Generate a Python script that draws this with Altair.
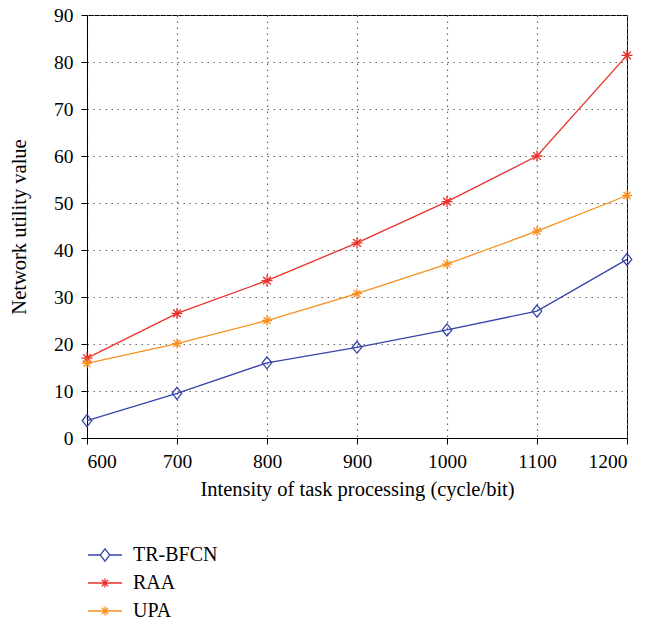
import altair as alt
import pandas as pd

x_vals = [600, 700, 800, 900, 1000, 1100, 1200]
tr_bfcn = [3.7, 9.5, 16.0, 19.3, 23.0, 27.0, 38.0]
raa = [17.0, 26.5, 33.5, 41.5, 50.3, 60.0, 81.4]
upa = [15.9, 20.1, 25.0, 30.7, 37.0, 44.0, 51.6]

series = ["TR-BFCN", "RAA", "UPA"]
colors = ["#3545a8", "#e8312a", "#f7901e"]
x_ticks = [600, 700, 800, 900, 1000, 1100, 1200]
y_ticks = [0, 10, 20, 30, 40, 50, 60, 70, 80, 90]

rows = []
for name, vals in zip(series, [tr_bfcn, raa, upa]):
    for xv, yv in zip(x_vals, vals):
        rows.append({"x": xv, "y": yv, "series": name})
df = pd.DataFrame(rows)

FONT = "Liberation Serif"
FS = 19.5
TFS = 20.5

diamond = "M0,-1L0.8,0L0,1L-0.8,0Z"
star = "M0,-1L0,1M-1,0L1,0M-0.7,-0.7L0.7,0.7M-0.7,0.7L0.7,-0.7"
leg_diamond = "M-1,0L-0.28,0M0.28,0L1,0M0,-0.36L0.28,0L0,0.36L-0.28,0Z"
leg_star = ("M-1,0L1,0M0,-0.27L0,0.27M-0.19,-0.19L0.19,0.19M-0.19,0.19L0.19,-0.19")

x_enc = alt.X("x:Q", scale=alt.Scale(domain=[600, 1200], nice=False),
              axis=alt.Axis(values=x_ticks, format="d",
                            title="Intensity of task processing (cycle/bit)",
                            labelPadding=8, titlePadding=9))
y_enc = alt.Y("y:Q", scale=alt.Scale(domain=[0, 90], nice=False),
              axis=alt.Axis(values=y_ticks, title="Network utility value",
                            labelPadding=8, titlePadding=24))
color_scale = alt.Scale(domain=series, range=colors)

lines = alt.Chart(df).mark_line(strokeWidth=1.3).encode(
    x=x_enc, y=y_enc,
    color=alt.Color("series:N", scale=color_scale, legend=None),
)

points = alt.Chart(df).mark_point(filled=False, strokeWidth=1.3, opacity=1).encode(
    x=alt.X("x:Q"), y=alt.Y("y:Q"),
    color=alt.Color("series:N", scale=color_scale, legend=None),
    shape=alt.Shape("series:N", scale=alt.Scale(domain=series, range=[diamond, star, star]), legend=None),
    size=alt.Size("series:N", scale=alt.Scale(domain=series, range=[144, 100, 100]), legend=None),
)

leg = dict(title=None, orient="none", legendX=0, legendY=97 + 425,
           symbolSize=1156, labelFont=FONT, labelFontSize=20,
           labelColor="black", symbolStrokeWidth=1.3,
           labelOffset=10, rowPadding=0)

legend_layer = alt.Chart(df).transform_filter("false").mark_point(filled=False, strokeWidth=1.3, opacity=1).encode(
    x=alt.X("x:Q"), y=alt.Y("y:Q"),
    color=alt.Color("series:N", scale=color_scale, legend=alt.Legend(**leg)),
    shape=alt.Shape("series:N", scale=alt.Scale(domain=series, range=[leg_diamond, leg_star, leg_star]),
                    legend=alt.Legend(**leg)),
)

chart = alt.layer(lines, points, legend_layer).resolve_scale(
    color="independent", shape="independent"
).properties(
    width=540, height=423,
    autosize=alt.AutoSizeParams(type="none"),
    padding={"left": 79, "top": 7, "right": 25, "bottom": 186},
).configure_view(
    stroke="black", strokeWidth=1
).configure_axis(
    domainColor="black", tickColor="black", tickSize=6,
    labelFont=FONT, labelFontSize=FS, labelColor="black",
    titleFont=FONT, titleFontSize=TFS, titleColor="black", titleFontWeight="normal",
    grid=True, gridColor="#666666", gridDash=[1.5, 4.5], gridWidth=1.2,
)

chart.save("out.html", embed_options={"renderer": "svg", "actions": False})
